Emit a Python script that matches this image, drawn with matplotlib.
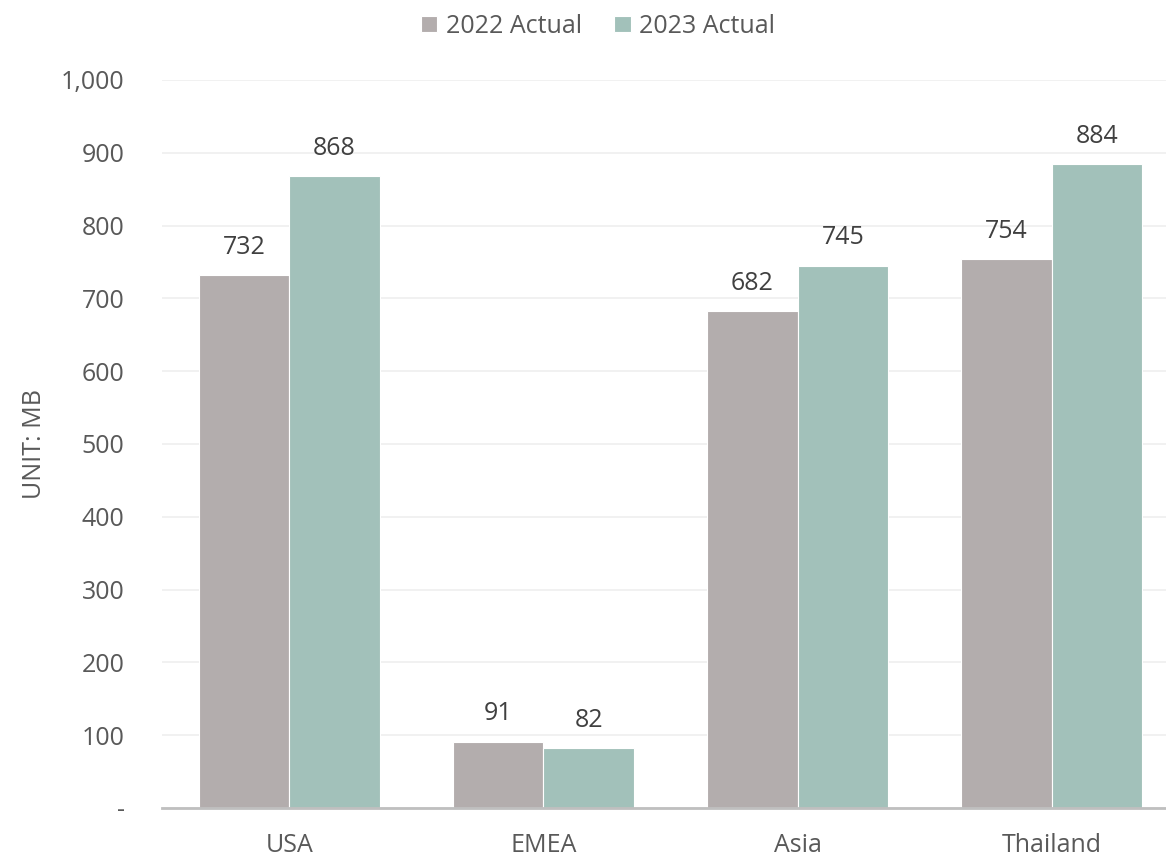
import numpy as np
import matplotlib.pyplot as plt
from matplotlib.ticker import FuncFormatter

# Regional volumes, unit: MB
regions = ['USA', 'EMEA', 'Asia', 'Thailand']
actual_2022 = [732, 91, 682, 754]
actual_2023 = [868, 82, 745, 884]

plt.rcParams['font.family'] = ['Open Sans', 'DejaVu Sans']
fs = 18

fig = plt.figure(figsize=(11.66, 8.61), dpi=100)
ax = fig.add_axes([0.139, 0.0616, 0.861, 0.8455])

x = np.arange(len(regions))
w = 0.356
b1 = ax.bar(x - w / 2, actual_2022, w, color='#B3ADAD', edgecolor='white', linewidth=0.8,
            label='2022 Actual', zorder=3)
b2 = ax.bar(x + w / 2, actual_2023, w, color='#A2C1BA', edgecolor='white', linewidth=0.8,
            label='2023 Actual', zorder=3)

for bars in (b1, b2):
    ax.bar_label(bars, labels=[f'{v:,}' for v in bars.datavalues], padding=11,
                 fontsize=fs, color='#404040')

ax.set_ylim(0, 1000)
ax.set_xlim(-0.5, 3.449)
ax.set_yticks(np.arange(0, 1001, 100))
ax.yaxis.set_major_formatter(FuncFormatter(lambda v, p: '-' if v == 0 else f'{int(v):,}'))
ax.set_xticks(x)
ax.set_xticklabels(regions)
ax.tick_params(axis='both', length=0, labelsize=fs, labelcolor='#595959')
ax.tick_params(axis='y', pad=27)
ax.tick_params(axis='x', pad=18)

ax.grid(axis='y', color='#EFEFEF', linewidth=1.2, zorder=0)
for s in ('top', 'right', 'left'):
    ax.spines[s].set_visible(False)
ax.spines['bottom'].set_color('#BFBFBF')
ax.spines['bottom'].set_linewidth(2)
ax.spines['bottom'].set_zorder(4)

ax.set_ylabel('UNIT: MB', fontsize=fs, color='#595959', labelpad=10)

fig.legend(loc='upper center', bbox_to_anchor=(0.513, 1.01), ncol=2, frameon=False,
           fontsize=fs, labelcolor='#595959', handlelength=0.65, handleheight=0.65,
           handletextpad=0.35, columnspacing=1.3)

fig.savefig('out.png', dpi=100)
